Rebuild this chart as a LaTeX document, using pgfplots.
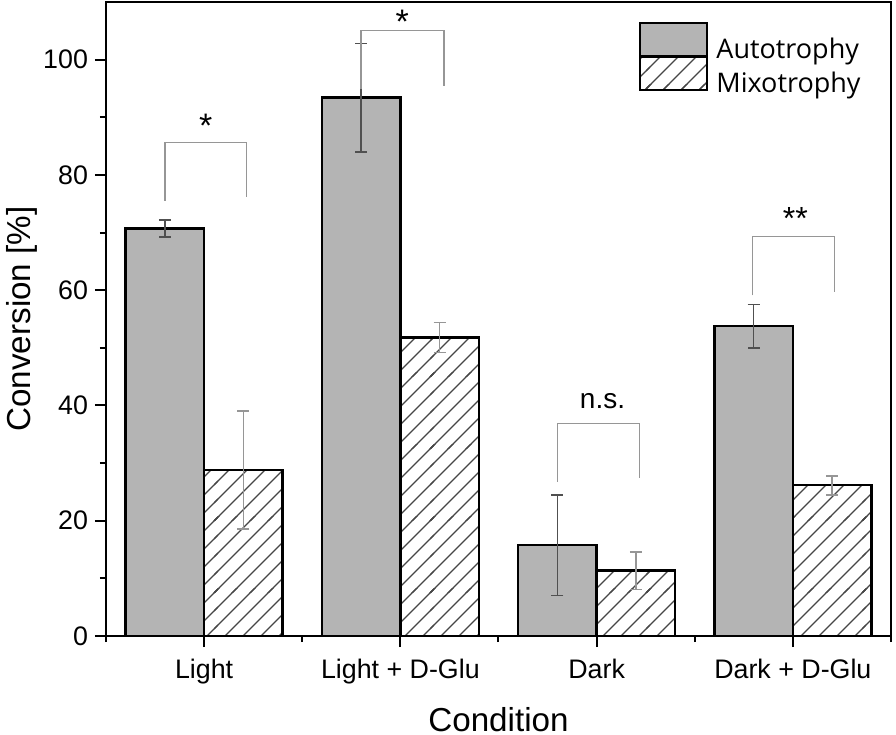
\documentclass[border=0pt]{standalone}
\usepackage{pgfplots}
\pgfplotsset{compat=1.18}
\usepackage{fontspec}
\setmainfont{Liberation Sans}
\newfontfamily\legfont{Open Sans}
\usetikzlibrary{patterns}
\definecolor{barA}{RGB}{180,180,180}
\definecolor{errA}{RGB}{80,80,80}
\definecolor{errM}{RGB}{150,150,150}
\definecolor{brk}{RGB}{150,150,150}
\definecolor{hatch}{RGB}{70,70,70}
\pgfdeclarepatternformonly{bighatch}{\pgfqpoint{-1pt}{-1pt}}{\pgfqpoint{37pt}{37pt}}{\pgfqpoint{36pt}{36pt}}{%
  \pgfsetlinewidth{0.6pt}%
  \pgfpathmoveto{\pgfqpoint{-1pt}{-37pt}}\pgfpathlineto{\pgfqpoint{37pt}{1pt}}%
  \pgfpathmoveto{\pgfqpoint{-1pt}{-28pt}}\pgfpathlineto{\pgfqpoint{37pt}{10pt}}%
  \pgfpathmoveto{\pgfqpoint{-1pt}{-19pt}}\pgfpathlineto{\pgfqpoint{37pt}{19pt}}%
  \pgfpathmoveto{\pgfqpoint{-1pt}{-10pt}}\pgfpathlineto{\pgfqpoint{37pt}{28pt}}%
  \pgfpathmoveto{\pgfqpoint{-1pt}{-1pt}}\pgfpathlineto{\pgfqpoint{37pt}{37pt}}%
  \pgfpathmoveto{\pgfqpoint{-1pt}{8pt}}\pgfpathlineto{\pgfqpoint{37pt}{46pt}}%
  \pgfpathmoveto{\pgfqpoint{-1pt}{17pt}}\pgfpathlineto{\pgfqpoint{37pt}{55pt}}%
  \pgfpathmoveto{\pgfqpoint{-1pt}{26pt}}\pgfpathlineto{\pgfqpoint{37pt}{64pt}}%
  \pgfpathmoveto{\pgfqpoint{-1pt}{35pt}}\pgfpathlineto{\pgfqpoint{37pt}{73pt}}%
  \pgfusepath{stroke}}
\begin{document}
\begin{tikzpicture}
\useasboundingbox (-53pt,-49.5pt) rectangle (395pt,318pt);
\begin{axis}[
  at={(0pt,0pt)}, anchor=south west,
  scale only axis, width=392.5pt, height=317pt,
  ybar=0pt, bar width=0.4,
  xmin=-0.5, xmax=3.5, ymin=0, ymax=110,
  xtick={0,1,2,3},
  xticklabels={Light, Light + D-Glu, Dark, Dark + D-Glu},
  minor xtick={-0.5,0.5,1.5,2.5,3.5},
  ytick={0,20,...,100}, minor ytick={10,30,...,90},
  tick align=outside, xtick pos=bottom, ytick pos=left,
  major tick length=5.5pt, minor tick length=3pt,
  tick style={black, line width=1pt},
  axis line style={black, line width=1.1pt},
  /pgf/number format/assume math mode=true,
  ticklabel style={font=\fontsize{13.4}{15}\selectfont},
  xticklabel style={yshift=-2.5pt},
  xlabel={Condition}, ylabel={Conversion [\%]},
  label style={font=\fontsize{16.6}{18}\selectfont},
  xlabel style={at={(axis description cs:0.5,0)}, anchor=base, yshift=-47.5pt},
  ylabel style={at={(axis description cs:0,0.5)}, anchor=base, yshift=37.5pt},
  legend style={at={(rel axis cs:0.679,0.969)}, anchor=north west, draw=none, fill=none,
    inner sep=0pt, row sep=-2.5pt, column sep=4pt,
    nodes={inner sep=0pt, font=\legfont\fontsize{13.5}{15}\selectfont}},
  legend cell align=left,
  legend image code/.code={\draw[#1, line width=1pt] (0pt,-3.25pt) rectangle (33.5pt,13.25pt);},
]
\addlegendimage{draw=black, fill=barA}
\addlegendentry{Autotrophy}
\addlegendimage{draw=black, fill=white, postaction={pattern=bighatch, pattern color=hatch}}
\addlegendentry{Mixotrophy}

\addplot[forget plot, bar shift=-0.2, draw=black, line width=1.2pt, fill=barA,
  error bars/.cd, y dir=both, y explicit,
  error bar style={color=errA, line width=0.75pt},
  error mark options={rotate=90, color=errA, line width=0.75pt, mark size=3pt}]
coordinates {(0,70.7) +- (0,1.45) (1,93.4) +- (0,9.4) (2,15.75) +- (0,8.75) (3,53.75) +- (0,3.75)};

\addplot[forget plot, bar shift=0.2, draw=black, line width=1.2pt, fill=white,
  postaction={pattern=bighatch, pattern color=hatch},
  error bars/.cd, y dir=both, y explicit,
  error bar style={color=errM, line width=0.75pt},
  error mark options={rotate=90, color=errM, line width=0.75pt, mark size=3pt}]
coordinates {(0,28.8) +- (0,10.2) (1,51.8) +- (0,2.6) (2,11.35) +- (0,3.25) (3,26.15) +- (0,1.65)};

\addplot[forget plot, sharp plot, no marks, color=brk, line width=0.65pt]
coordinates {(-0.2,75.5) (-0.2,85.6) (0.215,85.6) (0.215,76.1)};
\addplot[forget plot, sharp plot, no marks, color=brk, line width=0.65pt]
coordinates {(0.8,94.9) (0.8,105.0) (1.222,105.0) (1.222,95.4)};
\addplot[forget plot, sharp plot, no marks, color=brk, line width=0.65pt]
coordinates {(1.801,26.8) (1.801,36.9) (2.22,36.9) (2.22,27.4)};
\addplot[forget plot, sharp plot, no marks, color=brk, line width=0.65pt]
coordinates {(2.793,59.1) (2.793,69.3) (3.211,69.3) (3.211,59.7)};

\node[anchor=base, font=\fontsize{17}{17}\selectfont] at (axis cs:0.008,86.5) {*};
\node[anchor=base, font=\fontsize{17}{17}\selectfont] at (axis cs:1.01,104.5) {*};
\node[anchor=base, font=\fontsize{14}{14}\selectfont] at (axis cs:2.03,39.5) {n.s.};
\node[anchor=base, font=\fontsize{16}{16}\selectfont] at (axis cs:3.013,70.45) {**};
\end{axis}
\end{tikzpicture}
\end{document}
